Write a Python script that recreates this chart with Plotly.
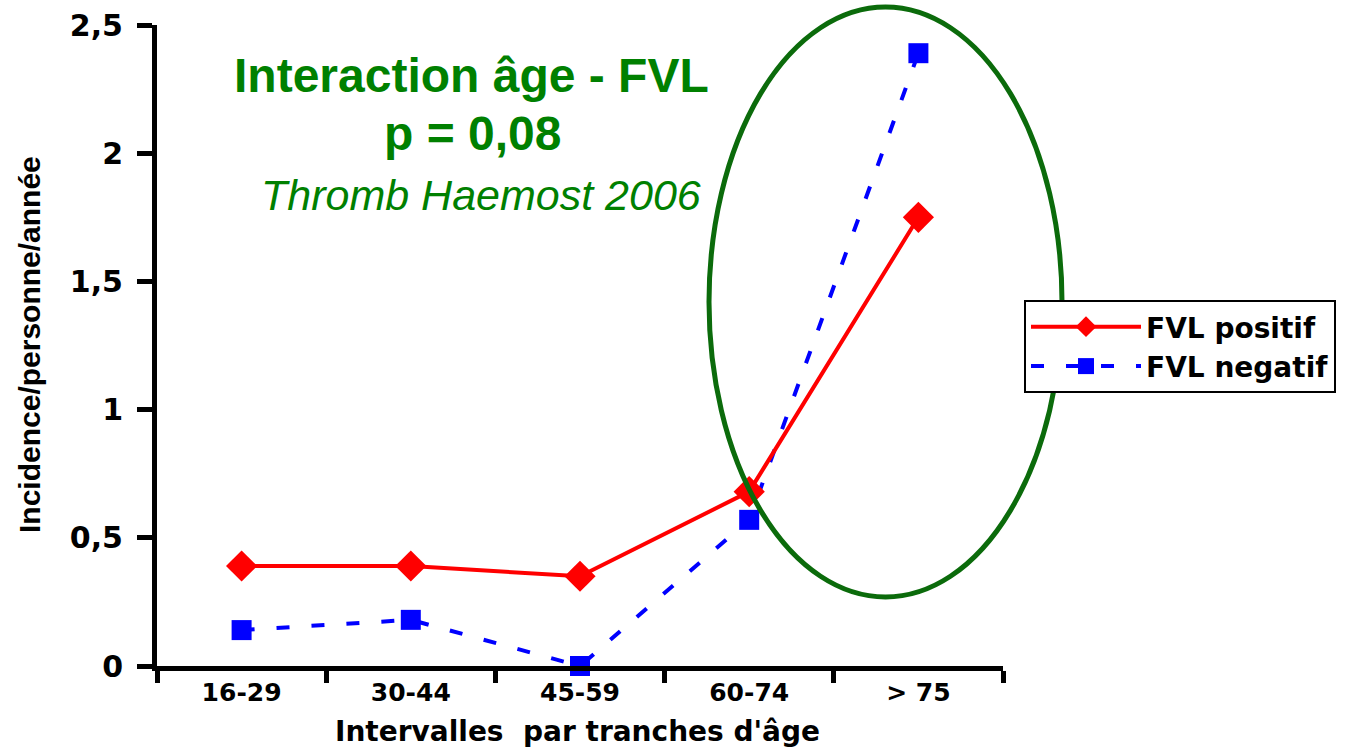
import plotly.graph_objects as go

categories = ["16-29", "30-44", "45-59", "60-74", "> 75"]
fvl_positif = [0.39, 0.39, 0.35, 0.68, 1.75]
fvl_negatif = [0.14, 0.18, 0.0, 0.57, 2.39]
y_tickvals = [0, 0.5, 1, 1.5, 2, 2.5]
y_ticktext = ["0", "0,5", "1", "1,5", "2", "2,5"]

FONT = "Liberation Sans, Arial, sans-serif"
WIDE = "DejaVu Sans, Verdana, sans-serif"

fig = go.Figure()
fig.add_trace(go.Scatter(
    x=categories, y=fvl_negatif, name="FVL negatif", mode="lines+markers",
    line=dict(color="#0000FF", width=4, dash="13px,22px"),
    marker=dict(symbol="square", size=20, color="#0000FF"),
    legendrank=2, cliponaxis=False,
))
fig.add_trace(go.Scatter(
    x=categories, y=fvl_positif, name="FVL positif", mode="lines+markers",
    line=dict(color="#FF0000", width=4),
    marker=dict(symbol="diamond", size=24, color="#FF0000"),
    legendrank=1, cliponaxis=False,
))

L, R, T, B = 157, 1003, 25, 666
W, H = 1351, 748
pw, ph = R - L, B - T

def px(x):
    return (x - L) / pw

def py(y):
    return (B - y) / ph

fig.update_layout(
    width=W, height=H,
    margin=dict(l=L, r=W - R, t=T, b=H - B, pad=0, autoexpand=False),
    paper_bgcolor="white", plot_bgcolor="white",
    font=dict(family=FONT, color="black"),
    showlegend=True,
    legend=dict(
        x=px(1024), y=py(300), xanchor="left", yanchor="top",
        bgcolor="white", bordercolor="black", borderwidth=2,
        font=dict(family=WIDE, size=28, color="black", weight="bold"),
        itemwidth=110, tracegroupgap=0,
    ),
    xaxis=dict(
        type="category", range=[-0.5, 4.5], automargin=False,
        showline=True, linecolor="black", linewidth=5,
        ticks="outside", tickson="boundaries", ticklen=12, tickwidth=5, tickcolor="black",
        showgrid=False, zeroline=False,
        tickfont=dict(family=WIDE, size=25, color="black", weight="bold"),
    ),
    yaxis=dict(
        range=[0, 2.5], tickvals=y_tickvals, ticktext=y_ticktext, automargin=False,
        showline=True, linecolor="black", linewidth=5,
        ticks="outside", ticklen=15, tickwidth=5, tickcolor="black",
        showgrid=False, zeroline=False, ticklabelstandoff=8,
        tickfont=dict(family=WIDE, size=30, color="black", weight="bold"),
    ),
)

# axis titles
fig.add_annotation(text="Intervalles  par tranches d'âge", xref="paper", yref="paper",
                   x=px(577), y=py(731), xanchor="center", yanchor="middle", showarrow=False,
                   font=dict(family=WIDE, size=28, color="black", weight="bold"))
fig.add_annotation(text="Incidence/personne/année", xref="paper", yref="paper",
                   x=px(29), y=py(345), xanchor="center", yanchor="middle", showarrow=False,
                   textangle=-90,
                   font=dict(family=FONT, size=30, color="black", weight="bold"))

fig.add_shape(
    type="circle", xref="paper", yref="paper",
    x0=px(709), x1=px(1062), y0=py(597), y1=py(7),
    line=dict(color="#0B6B0B", width=5), layer="above",
)

fig.add_annotation(text="Interaction âge - FVL", xref="paper", yref="paper",
                   x=px(471), y=py(75), xanchor="center", yanchor="middle", showarrow=False,
                   font=dict(family=FONT, size=48, color="#008000", weight="bold"))
fig.add_annotation(text="p = 0,08", xref="paper", yref="paper",
                   x=px(472), y=py(133), xanchor="center", yanchor="middle", showarrow=False,
                   font=dict(family=FONT, size=48, color="#008000", weight="bold"))
fig.add_annotation(text="<i>Thromb Haemost 2006</i>", xref="paper", yref="paper",
                   x=px(481), y=py(195), xanchor="center", yanchor="middle", showarrow=False,
                   font=dict(family=FONT, size=43, color="#008000"))

fig.write_html("out.html")
